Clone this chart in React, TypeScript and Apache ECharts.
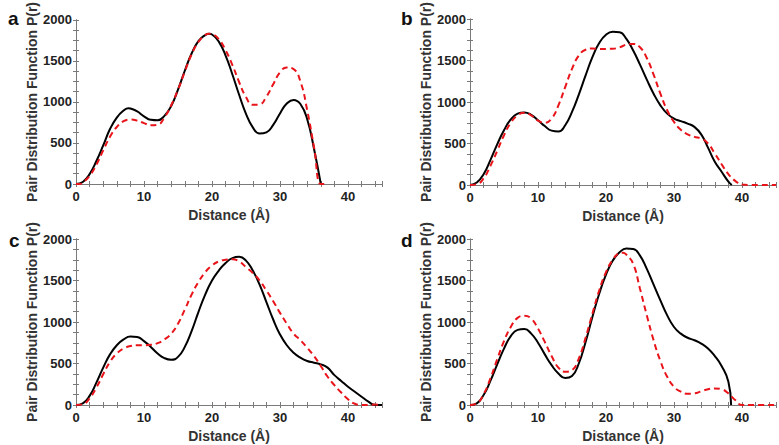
import React, { useEffect, useRef } from "react";
import * as echarts from "echarts";

// ---- Data (distance in Å, P(r) values) ----
const aSolid: [number, number][] = [[0,0],[1,25],[2,120],[3,280],[4,470],[5,670],[6,810],[7,895],[7.7,924],[8,920],[9,885],[10,825],[11,782],[12,776],[13,830],[14,950],[15,1150],[16,1380],[17,1590],[18,1740],[19,1815],[19.6,1830],[20,1822],[21,1735],[22,1565],[23,1335],[24,1085],[25,855],[26,690],[27,615],[28,630],[29,720],[30,860],[31,980],[32,1025],[33,975],[34,790],[35,430],[36,0]];
const aDashed: [number, number][] = [[0,0],[0.5,0],[1,20],[2,100],[3,235],[4,410],[5,575],[6,695],[7,765],[8,785],[9,772],[10,742],[11,716],[12,722],[13,810],[14,960],[15,1150],[16,1370],[17,1580],[18,1730],[19,1815],[19.6,1830],[20,1825],[21,1765],[22,1630],[23,1450],[24,1240],[25,1060],[26,965],[27,970],[28,1065],[29,1215],[30,1360],[31,1420],[32,1400],[33,1250],[34,900],[35,450],[36,0],[36.5,0]];

const bSolid: [number, number][] = [[0,0],[1,30],[2,130],[3,300],[4,490],[5,660],[6,790],[7,860],[8,875],[9,845],[10,780],[11,710],[12,655],[13,645],[14,720],[15,880],[16,1090],[17,1320],[18,1540],[19,1710],[20,1810],[21,1845],[22,1840],[23,1760],[24,1620],[25,1450],[26,1270],[27,1100],[28,960],[29,860],[30,800],[31,770],[32,740],[33,700],[34,610],[35,450],[36,280],[37,160],[38,40],[38.5,0]];
const bDashed: [number, number][] = [[0,0],[1,10],[2,80],[3,230],[4,410],[5,600],[6,750],[7,840],[8,870],[9,840],[10,775],[11,750],[12,800],[13,960],[14,1180],[15,1400],[16,1560],[17,1630],[18,1645],[19,1640],[20,1640],[21,1642],[22,1660],[23,1690],[24,1700],[25,1660],[26,1530],[27,1330],[28,1100],[29,900],[30,760],[31,665],[32,610],[33,580],[34,560],[35,500],[36,380],[37,250],[38,130],[39,50],[40,5],[41,0],[45,0]];

const cSolid: [number, number][] = [[0,0],[1,20],[2,110],[3,270],[4,450],[5,610],[6,720],[7,790],[8,825],[9,820],[10,770],[11,700],[12,620],[13,565],[14,545],[15,580],[16,700],[17,890],[18,1120],[19,1330],[20,1500],[21,1620],[22,1710],[23,1770],[24,1785],[25,1740],[26,1620],[27,1450],[28,1240],[29,1030],[30,850],[31,720],[32,630],[33,570],[34,530],[35,510],[36,490],[37,450],[38,360],[39,290],[40,220],[41,160],[42,100],[43,40],[44,0],[45,0]];
const cDashed: [number, number][] = [[0,0],[1,10],[2,80],[3,210],[4,370],[5,520],[6,620],[7,680],[8,710],[9,720],[10,720],[11,725],[12,745],[13,790],[14,860],[15,980],[16,1150],[17,1330],[18,1480],[19,1600],[20,1680],[21,1730],[22,1750],[23,1755],[24,1730],[25,1660],[26,1590],[27,1500],[28,1380],[29,1250],[30,1110],[31,980],[32,860],[33,780],[34,690],[35,590],[36,470],[37,340],[38,240],[39,150],[40,70],[41,15],[42,0],[43,0],[44,5],[45,0]];

const dSolid: [number, number][] = [[0,0],[1,20],[2,120],[3,290],[4,490],[5,680],[6,830],[7,905],[8,915],[9,860],[10,750],[11,610],[12,480],[13,380],[14,325],[15,350],[16,500],[17,760],[18,1060],[19,1340],[20,1570],[21,1740],[22,1840],[23,1885],[24,1880],[25,1800],[26,1640],[27,1450],[28,1260],[29,1080],[30,940],[31,860],[32,810],[33,780],[34,740],[35,680],[36,590],[37,470],[38,280],[38.4,0]];
const dDashed: [number, number][] = [[0,0],[1,20],[2,130],[3,320],[4,550],[5,770],[6,940],[7,1050],[8,1075],[9,1040],[10,920],[11,760],[12,590],[13,450],[14,400],[15,420],[16,560],[17,810],[18,1100],[19,1380],[20,1600],[21,1750],[22,1830],[22.5,1835],[23,1810],[24,1700],[25,1400],[26,1080],[27,780],[28,530],[29,340],[30,220],[31,160],[32,135],[33,140],[34,165],[35,190],[36,200],[37,190],[38,140],[39,60],[40,0],[41,0],[45,0]];

const panelLabels = ["a", "b", "c", "d"];
const xTitle = "Distance (Å)";
const yTitle = "Pair Distribution Function P(r)";

const panels = [
  { solid: aSolid, dashed: aDashed },
  { solid: bSolid, dashed: bDashed },
  { solid: cSolid, dashed: cDashed },
  { solid: dSolid, dashed: dDashed },
];

const grids = [
  { left: 76, top: 17, width: 306, height: 167 },
  { left: 470, top: 19, width: 306, height: 166 },
  { left: 76, top: 239, width: 306, height: 166 },
  { left: 470, top: 239, width: 306, height: 166 },
];
const letterPos = [
  { x: 8, y: 9 },
  { x: 401, y: 9 },
  { x: 9, y: 231 },
  { x: 401, y: 231 },
];

const FONT = "'Liberation Sans', Arial, sans-serif";
const FRAME = "#7a7a7a";

export default function App() {
  const ref = useRef<HTMLDivElement>(null);
  useEffect(() => {
    if (!ref.current) return;
    const chart = echarts.init(ref.current, undefined, { renderer: "svg" });
    const xAxes: any[] = [];
    const yAxes: any[] = [];
    const series: any[] = [];
    const common = {
      axisLine: { show: true, lineStyle: { color: FRAME, width: 1 } },
      axisTick: { show: true, inside: true, length: 3, lineStyle: { color: FRAME } },
      splitLine: { show: false },
    };
    grids.forEach((g, i) => {
      xAxes.push({
        type: "value", gridIndex: i, min: 0, max: 45, interval: 2, position: "bottom",
        ...common,
        axisLabel: {
          margin: 6, color: "#222", fontWeight: "bold", fontSize: 13, fontFamily: FONT,
          formatter: (v: number) => (v % 10 === 0 ? String(v) : ""),
        },
        name: xTitle, nameLocation: "middle", nameGap: 24,
        nameTextStyle: { color: "#333", fontWeight: "bold", fontSize: 14, fontFamily: FONT },
      });
      xAxes.push({
        type: "value", gridIndex: i, min: 0, max: 45, interval: 2, position: "top",
        ...common, axisLabel: { show: false },
      });
      yAxes.push({
        type: "value", gridIndex: i, min: 0, max: 2000, interval: 125, position: "left",
        ...common,
        axisLabel: {
          margin: 4, color: "#222", fontWeight: "bold", fontSize: 13, fontFamily: FONT,
          formatter: (v: number) => (v % 500 === 0 ? String(v) : ""),
        },
        name: yTitle, nameLocation: "middle", nameGap: 36,
        nameTextStyle: { color: "#333", fontWeight: "bold", fontSize: 14, fontFamily: FONT },
      });
      yAxes.push({
        type: "value", gridIndex: i, min: 0, max: 2000, interval: 125, position: "right",
        ...common, axisLabel: { show: false },
      });
      const p = panels[i];
      series.push({
        type: "line", xAxisIndex: i * 2, yAxisIndex: i * 2, data: p.solid,
        showSymbol: false, smooth: 0.5,
        lineStyle: { color: "#000", width: 2 }, z: 3,
      });
      series.push({
        type: "line", xAxisIndex: i * 2, yAxisIndex: i * 2, data: p.dashed,
        showSymbol: false, smooth: 0.5,
        lineStyle: { color: "#e8141a", width: 2, type: [6, 4] }, z: 4,
      });
    });
    chart.setOption({
      animation: false,
      backgroundColor: "#fff",
      grid: grids.map((g) => ({ ...g, containLabel: false })),
      xAxis: xAxes,
      yAxis: yAxes,
      series,
      graphic: panelLabels.map((t, i) => ({
        type: "text", left: letterPos[i].x, top: letterPos[i].y,
        style: { text: t, font: `bold 19px ${FONT}`, fill: "#111" },
      })),
    });
    return () => chart.dispose();
  }, []);
  return <div ref={ref} style={{ position: "fixed", left: 0, top: 0, width: 779, height: 445 }} />;
}
